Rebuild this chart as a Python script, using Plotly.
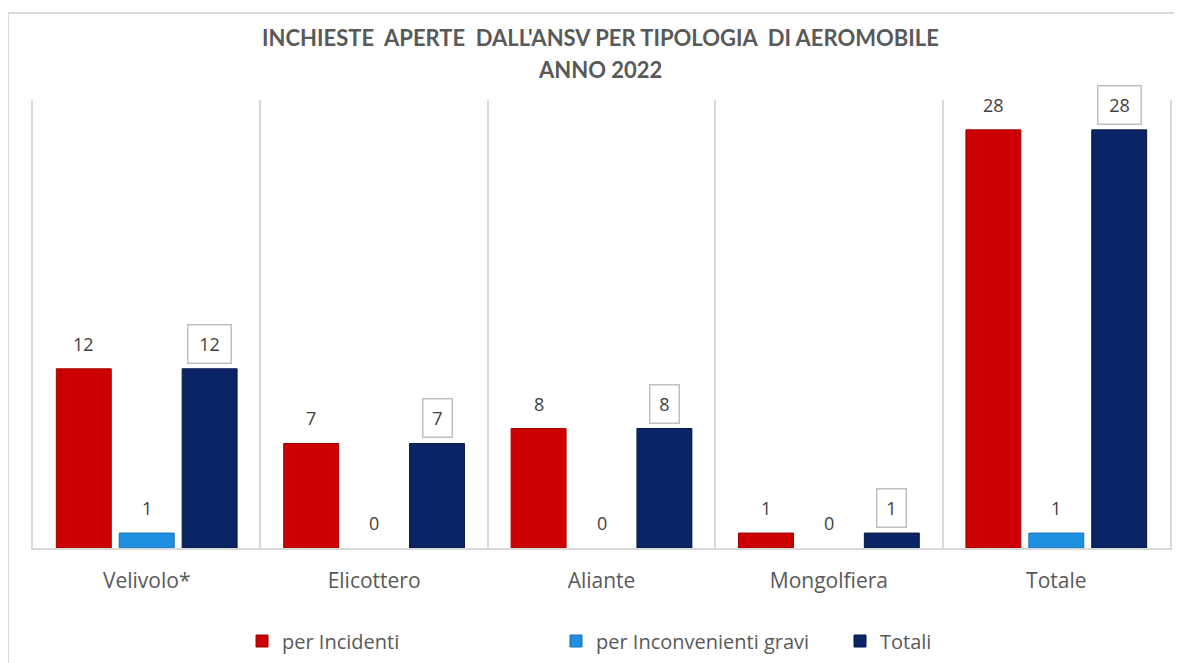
import plotly.graph_objects as go

categories = ["Velivolo*", "Elicottero", "Aliante", "Mongolfiera", "Totale"]
series_names = ["per Incidenti", "per Inconvenienti gravi", "Totali"]
incidenti = [12, 7, 8, 1, 28]
inconvenienti = [1, 0, 0, 0, 1]
totali = [12, 7, 8, 1, 28]
title_lines = ["INCHIESTE  APERTE  DALL'ANSV PER TIPOLOGIA  DI AEROMOBILE", "ANNO 2022"]

colors = ["#CC0000", "#1F8FE0", "#0A2466"]
line_colors = ["#A30000", "#1670B5", "#061845"]

# page offset (browser body margin)
OX, OY = 8, 8
W, H = 1174, 655
ML, MR, MT, MB = 25, 12, 92, 115
plot_w = W - ML - MR
plot_h = H - MT - MB
bargap = 0.17
bargroupgap = 0.127
FONT = "'Open Sans', sans-serif"
TFONT = "Lato, sans-serif"
TXT = "#404040"
GRID = "#D9D9D9"


def px_x(sx):
    return (sx - OX - ML) / plot_w


def px_y(sy):
    return (H - MB - (sy - OY)) / plot_h


legend_ids = ["legend", "legend2", "legend3"]
legend_sx = [242, 556, 840]

fig = go.Figure()
for name, vals, c, lc, lid in zip(series_names, [incidenti, inconvenienti, totali],
                                  colors, line_colors, legend_ids):
    fig.add_trace(go.Bar(
        x=categories, y=vals, name=name, legend=lid,
        marker=dict(color=c, line=dict(color=lc, width=[1 if v else 0 for v in vals])),
    ))

cat_px = plot_w / len(categories)
slot = (1 - bargap) * cat_px / 3
shifts = [-slot, 0, slot]

annotations = []
for si, vals in enumerate([incidenti, inconvenienti, totali]):
    for cat, v in zip(categories, vals):
        boxed = si == 2
        txt = str(v)
        ann = dict(
            x=cat, y=v, xref="x", yref="y", text=txt, showarrow=False,
            xshift=shifts[si], yshift=25, yanchor="middle",
            font=dict(family=FONT, size=18, color=TXT),
        )
        if boxed:
            ann.update(bordercolor="#BFBFBF", borderwidth=1.5, borderpad=2,
                       bgcolor="white", width=10 + 14 * len(txt), height=33)
        annotations.append(ann)

for line, sy in zip(title_lines, [38, 70]):
    annotations.append(dict(
        x=px_x(600), y=px_y(sy), xref="paper", yref="paper",
        xanchor="center", yanchor="middle",
        text="<b>" + line + "</b>", showarrow=False,
        font=dict(family=TFONT, size=22, color="#595959"),
    ))

legend_common = dict(
    orientation="h", xanchor="left", yanchor="middle",
    font=dict(family=FONT, size=20, color="#595959"),
    itemwidth=30, bgcolor="rgba(0,0,0,0)",
)

fig.update_layout(
    width=W, height=H,
    margin=dict(l=ML, r=MR, t=MT, b=MB, autoexpand=False),
    paper_bgcolor="white", plot_bgcolor="white",
    barmode="group", bargap=bargap, bargroupgap=bargroupgap,
    font=dict(family=FONT, color=TXT),
    showlegend=True,
    legend=dict(x=px_x(legend_sx[0]), y=px_y(641), **legend_common),
    legend2=dict(x=px_x(legend_sx[1]), y=px_y(641), **legend_common),
    legend3=dict(x=px_x(legend_sx[2]), y=px_y(641), **legend_common),
    xaxis=dict(
        tickson="boundaries", showgrid=True, gridcolor=GRID, gridwidth=2,
        showline=True, linecolor=GRID, linewidth=2,
        ticks="", tickfont=dict(family=FONT, size=21, color="#595959"),
        ticklabelstandoff=13,
        fixedrange=True,
    ),
    yaxis=dict(range=[0, 30], showticklabels=False, ticks="", showgrid=False,
               zeroline=False, showline=True, mirror=True, linecolor=GRID, linewidth=2),
    annotations=annotations,
    shapes=[
        dict(type="line", xref="paper", yref="paper",
             x0=px_x(8), x1=px_x(OX + W), y0=px_y(13), y1=px_y(13),
             line=dict(color=GRID, width=2), layer="below"),
        dict(type="line", xref="paper", yref="paper",
             x0=px_x(8), x1=px_x(8), y0=px_y(13), y1=px_y(OY + H),
             line=dict(color=GRID, width=2), layer="below"),
    ],
)

fig.write_html("out.html")
